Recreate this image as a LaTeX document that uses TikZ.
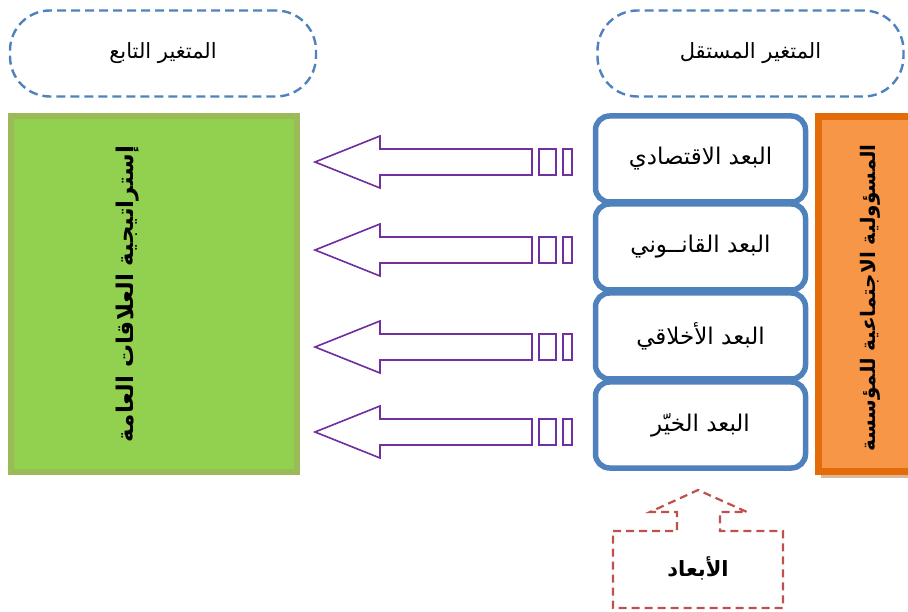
\documentclass[tikz,border=0pt]{standalone}
\usepackage{fontspec}
\TeXXeTstate=1
\newfontfamily\arabicfont[Script=Arabic]{DejaVu Sans}
\usetikzlibrary{calc}
\definecolor{pillblue}{HTML}{4F81BD}
\definecolor{leafgreen}{HTML}{92D050}
\definecolor{olivegreen}{HTML}{9BBB59}
\definecolor{orangefill}{HTML}{F79646}
\definecolor{orangeline}{HTML}{E36C09}
\definecolor{shadowtan}{HTML}{D9B89A}
\definecolor{arrowpurple}{HTML}{7030A0}
\definecolor{calloutred}{HTML}{C0504D}
\begin{document}
\begin{tikzpicture}[x=1pt,y=-1pt,
  pill/.style={draw=pillblue, line width=2.4pt, dash pattern=on 9pt off 5pt,
    rounded corners=40pt, minimum width=306pt, minimum height=86pt,
    font=\arabicfont\fontsize{21}{24}\selectfont},
  dimbox/.style={draw=pillblue, line width=5.5pt, rounded corners=14pt, fill=white,
    minimum width=210pt, minimum height=86pt,
    font=\arabicfont\fontsize{23}{26}\selectfont},
  sidetext/.style={rotate=90, font=\arabicfont\bfseries\fontsize{23}{26}\selectfont},
  blockarrow/.style={draw=arrowpurple, line width=1.6pt, fill=white, line join=miter},
  callout/.style={draw=calloutred, line width=2.2pt, dash pattern=on 8pt off 5pt}]
\useasboundingbox (0,0) rectangle (908,612);

% headings
\node[pill] (dep) at (163,53.5) {\beginR المتغير التابع\endR};
\node[pill] (indep) at (750.5,53.5) {\beginR المتغير المستقل\endR};

% dependent variable box
\draw[draw=olivegreen, line width=6pt, fill=leafgreen] (11,116) rectangle (297,472);
\node[sidetext] (strategytext) at (128,294)
  {\beginR إستراتيجية العلاقات العامة\endR};

% independent variable box
\fill[shadowtan] (821,120) rectangle (912,478);
\draw[draw=orangeline, line width=7pt, fill=orangefill]
  (818.5,116.5) rectangle (914,471.5);
\node[sidetext, font=\arabicfont\bfseries\fontsize{20}{23}\selectfont] (csrtext)
  at (870,298) {\beginR المسؤولية الاجتماعية للمؤسسة\endR};

% the four dimensions
\node[dimbox] (d1) at (700.5,159) {\beginR البعد الاقتصادي\endR};
\node[dimbox] (d2) at (700.5,247) {\beginR البعد القانــوني\endR};
\node[dimbox] (d3) at (700.5,336) {\beginR البعد الأخلاقي\endR};
\node[dimbox] (d4) at (700.5,425) {\beginR البعد الخيّر\endR};

% striped block arrows from each dimension towards the strategy box
\foreach \r/\c in {1/162,2/250,3/347,4/432}{
  \coordinate (tip\r) at (315,\c);
  \draw[blockarrow] (tip\r) -- ++(65,-26) -- ++(0,13) -- ++(152,0)
    -- ++(0,26) -- ++(-152,0) -- ++(0,13) -- cycle;
  \draw[blockarrow] ($(tip\r)+(224,-13)$) rectangle ++(17,26);
  \draw[blockarrow] ($(tip\r)+(248,-13)$) rectangle ++(9,26);
}

% dimensions callout
\node[font=\arabicfont\bfseries\fontsize{21}{24}\selectfont] (dims) at (698,568)
  {\beginR الأبعاد\endR};
\draw[callout] (613,531) -- (677,531) -- (677,512) -- (650,512) -- (698,490)
  -- (747,512) -- (720,512) -- (720,531) -- (783,531) -- (783,608)
  -- (613,608) -- cycle;
\end{tikzpicture}
\end{document}
